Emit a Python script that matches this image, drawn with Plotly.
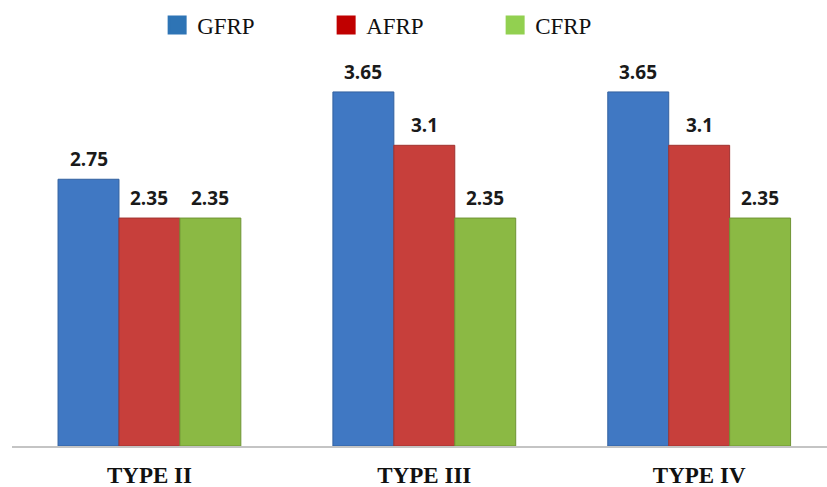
import plotly.graph_objects as go

# Categories and series values
categories = ["TYPE II", "TYPE III", "TYPE IV"]
series_names = ["GFRP", "AFRP", "CFRP"]
gfrp = [2.75, 3.65, 3.65]
afrp = [2.35, 3.1, 3.1]
cfrp = [2.35, 2.35, 2.35]
values = [gfrp, afrp, cfrp]

bar_colors = ["#4078c3", "#c73f3b", "#8bb944"]
bar_edges = ["#32609f", "#a03230", "#6f9434"]
legend_colors = ["#2e74b5", "#c00000", "#92d050"]

BARGAP = 0.335
bar_w = (1 - BARGAP) / len(series_names)

fig = go.Figure()

for name, vals, col, edge in zip(series_names, values, bar_colors, bar_edges):
    fig.add_trace(go.Bar(
        x=categories, y=vals, name=name,
        marker=dict(color=col, line=dict(color=edge, width=1)),
        showlegend=False, hoverinfo="x+y+name",
    ))

# legend keys drawn as flat squares
for name, col in zip(series_names, legend_colors):
    fig.add_trace(go.Scatter(
        x=[None], y=[None], mode="markers", name=name,
        marker=dict(symbol="square", size=16, color=col,
                    line=dict(color=col, width=3)),
    ))

# value labels above each bar
for j, vals in enumerate(values):
    for i, v in enumerate(vals):
        fig.add_annotation(
            x=i + (j - 1) * bar_w, y=v, xref="x", yref="y",
            text=f"<b>{v:g}</b>", showarrow=False,
            yanchor="bottom", yshift=5,
            font=dict(family="Open Sans", size=19, color="#1a1a1a"),
        )

fig.update_layout(
    width=827, height=487,
    margin=dict(l=12, r=0, t=58, b=41),
    paper_bgcolor="white", plot_bgcolor="white",
    barmode="group", bargap=BARGAP, bargroupgap=0,
    showlegend=True,
    legend=dict(
        orientation="h", xref="container", yref="container",
        x=0.19, y=1 - 25 / 487, xanchor="left", yanchor="middle",
        font=dict(family="Liberation Serif", size=23, color="#111111"),
        entrywidth=124, itemsizing="trace",
        bgcolor="rgba(0,0,0,0)",
    ),
    xaxis=dict(
        type="category", range=[-0.5, 2.465],
        showline=True, linecolor="#c4c4c4", linewidth=1.5,
        showgrid=False, ticks="", ticklabelstandoff=8,
        tickfont=dict(family="Liberation Serif", size=23, color="#111111"),
        tickvals=categories,
        ticktext=[f"<b>{c}</b>" for c in categories],
    ),
    yaxis=dict(range=[0, 4], visible=False, showgrid=False, zeroline=False),
)

fig.write_html("out.html")
